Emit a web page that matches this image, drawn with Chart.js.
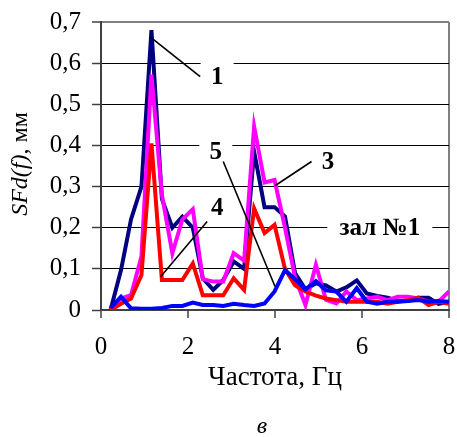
<!DOCTYPE html>
<html>
<head>
<meta charset="utf-8">
<script src="https://cdn.jsdelivr.net/npm/chart.js@4.4.1/dist/chart.umd.min.js"></script>
<style>
  html, body { margin:0; padding:0; background:#fff; }
  #wrap { position:relative; width:457px; height:437px; }
  #ytitle { position:absolute; left:-79px; top:149px; width:200px; height:30px; line-height:30px;
            text-align:center; transform:rotate(-90deg); font:24px "Liberation Serif"; color:#000; white-space:nowrap; }
  #cap { position:absolute; left:242px; top:412px; width:40px; height:30px; line-height:30px;
         text-align:center; font:italic 24px "Liberation Serif"; color:#000; }
</style>
</head>
<body>
<div id="wrap">
  <canvas id="ch" width="457" height="437"></canvas>
  <div id="ytitle"><i>SFd(f)</i>, мм</div>
  <div id="cap">в</div>
</div>
<script>
// ---- данные (частота, Гц)
const freq = [0.22,0.46,0.69,0.93,1.16,1.40,1.64,1.87,2.11,2.34,2.58,2.81,3.05,3.29,3.52,3.76,3.99,
              4.23,4.46,4.70,4.94,5.17,5.41,5.64,5.88,6.11,6.35,6.59,6.82,7.06,7.29,7.53,7.76,8.00];
// кривая 1 (тёмно-синяя)
const s1 = [0,0.097,0.22,0.30,0.68,0.27,0.20,0.227,0.20,0.077,0.049,0.073,0.118,0.10,0.385,0.25,0.25,
            0.227,0.09,0.05,0.065,0.06,0.045,0.055,0.072,0.04,0.034,0.03,0.022,0.022,0.03,0.03,0.015,0.02];
// кривая 3 (пурпурная)
const s3 = [0,0.028,0.036,0.13,0.572,0.28,0.138,0.22,0.245,0.075,0.069,0.069,0.138,0.12,0.446,0.31,0.316,
            0.2,0.08,0.012,0.11,0.025,0.016,0.045,0.024,0.028,0.032,0.024,0.032,0.032,0.028,0.02,0.02,0.045];
// кривая 4 (красная)
const s4 = [0,0.015,0.028,0.085,0.405,0.073,0.073,0.073,0.113,0.036,0.036,0.036,0.077,0.049,0.247,0.187,0.207,
            0.10,0.06,0.045,0.035,0.028,0.024,0.02,0.02,0.02,0.02,0.015,0.02,0.024,0.03,0.012,0.02,0.015];
// кривая 5 (синяя)
const s5 = [0.005,0.032,0.004,0.003,0.003,0.005,0.01,0.01,0.018,0.012,0.012,0.01,0.015,0.012,0.01,0.016,0.045,
            0.097,0.075,0.05,0.07,0.048,0.045,0.02,0.053,0.02,0.015,0.02,0.02,0.022,0.024,0.02,0.022,0.02];

const xTicks = [0,2,4,6,8];
const yTicks = [0,0.1,0.2,0.3,0.4,0.5,0.6,0.7];

// подписи и выноски (в единицах данных)
const noteText = ['1','5','4','3','зал №1'];
const noteAt   = [[2.67,0.567],[2.64,0.384],[2.67,0.248],[5.22,0.362],[6.41,0.2]];
const noteGap  = [33,33,0,0,105];   // белая подложка, px
const leaders  = [[[1.13,0.664],[2.28,0.567]],
                  [[2.81,0.361],[4.0,0.057]],
                  [[2.44,0.215],[1.37,0.081]],
                  [[4.84,0.361],[4.0,0.302]]];

const pts = arr => arr.map((v,i)=>({x:freq[i], y:v}));
const fmtY = v => Math.abs(v) < 1e-9 ? '0' : v.toFixed(1).replace('.', ',');
const SERIF = '"Liberation Serif", "Times New Roman", serif';

const notes = {
  id:'notes',
  beforeDatasetsDraw(chart){
    const {ctx, scales:{x,y}} = chart;
    ctx.save(); ctx.fillStyle = '#fff';
    noteGap.forEach((w,i)=>{
      if (!w) return;
      const px = x.getPixelForValue(noteAt[i][0]), py = y.getPixelForValue(noteAt[i][1]);
      ctx.fillRect(px - w/2, py - 18, w, 36);
    });
    ctx.restore();
  },
  afterDatasetsDraw(chart){
    const {ctx, scales:{x,y}} = chart;
    ctx.save();
    ctx.strokeStyle = '#000'; ctx.lineWidth = 1.6;
    leaders.forEach(([a,b])=>{
      ctx.beginPath();
      ctx.moveTo(x.getPixelForValue(a[0]), y.getPixelForValue(a[1]));
      ctx.lineTo(x.getPixelForValue(b[0]), y.getPixelForValue(b[1]));
      ctx.stroke();
    });
    ctx.fillStyle = '#000';
    ctx.font = 'bold 25px ' + SERIF;
    ctx.textAlign = 'center'; ctx.textBaseline = 'middle';
    noteText.forEach((t,i)=>{
      ctx.fillText(t, x.getPixelForValue(noteAt[i][0]), y.getPixelForValue(noteAt[i][1]) + 1);
    });
    ctx.restore();
  }
};

const line = (data, color) => ({
  data: pts(data), borderColor: color, backgroundColor: color,
  borderWidth: 4, pointRadius: 0, tension: 0, fill: false
});

new Chart(document.getElementById('ch'), {
  type: 'line',
  data: {
    // первый набор рисуется сверху
    datasets: [ line(s5,'#0000FF'), line(s4,'#FF0000'), line(s3,'#FF00FF'), line(s1,'#000080') ]
  },
  options: {
    responsive: false, animation: false,
    layout: { padding: { left:0, top:22, right:8, bottom:0 } },
    plugins: { legend:{display:false}, tooltip:{enabled:false} },
    scales: {
      x: {
        type: 'linear', min: 0, max: 8,
        afterFit: s => { s.height = 127; s.paddingLeft = 0; s.paddingRight = 0; },
        afterBuildTicks: s => { s.ticks = xTicks.map(v=>({value:v})); },
        border: { color:'#404040', width:2 },
        grid: {
          drawOnChartArea: true, drawTicks: true, tickLength: 8, tickWidth: 1.5, tickColor: '#404040',
          color: c => (c.tick && c.tick.value === 8) ? '#808080' : 'rgba(0,0,0,0)',
          lineWidth: 2
        },
        ticks: { color:'#000', padding: 14, maxRotation: 0, font:{ family: SERIF, size: 25 } },
        title: { display:true, text:'Частота, Гц', color:'#000', padding:{ bottom:43 },
                 font:{ family: SERIF, size: 27 } }
      },
      y: {
        min: 0, max: 0.7,
        afterFit: s => { s.width = 101; s.paddingTop = 0; s.paddingBottom = 0; },
        afterBuildTicks: s => { s.ticks = yTicks.map(v=>({value:v})); },
        border: { color:'#404040', width:2 },
        grid: {
          drawTicks: true, tickLength: 9, tickWidth: 1.5, tickColor: '#404040',
          color: c => (c.tick && c.tick.value > 0.69) ? '#808080' : '#000',
          lineWidth: c => (c.tick && c.tick.value > 0.69) ? 2 : 1
        },
        ticks: { color:'#000', padding: 11, callback: v => fmtY(v), font:{ family: SERIF, size: 25 } }
      }
    }
  },
  plugins: [notes]
});
</script>
</body>
</html>
